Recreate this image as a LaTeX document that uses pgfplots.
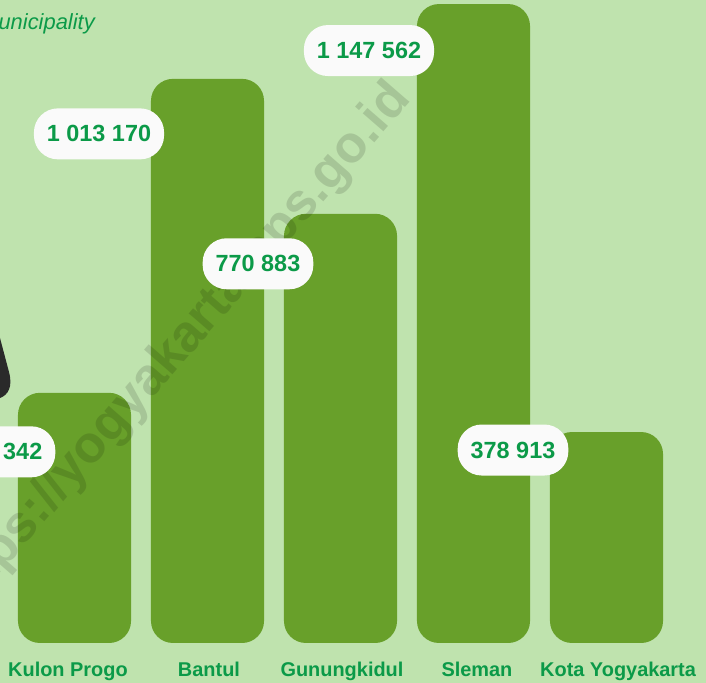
\documentclass[border=0pt]{standalone}
\usepackage{pgfplots}
\pgfplotsset{compat=1.18}
\usepackage{fontspec}
\setmainfont{Liberation Sans}
\definecolor{bgc}{RGB}{191,227,174}
\definecolor{barc}{RGB}{104,160,42}
\definecolor{txtg}{RGB}{11,154,72}
\definecolor{lblbg}{RGB}{250,250,250}
\definecolor{darkshape}{RGB}{42,42,42}
\tikzset{lbl/.style={fill=lblbg, text=txtg, rounded corners=24bp, minimum height=51bp, inner xsep=13bp, inner ysep=0pt, font=\bfseries\fontsize{23.5}{23.5}\selectfont, anchor=center}}
\begin{document}
\begin{tikzpicture}
\useasboundingbox (0,0) rectangle (706bp,683bp);
\fill[bgc] (0,0) rectangle (706bp,683bp);
\fill[darkshape] (0bp,345bp) -- (9bp,311bp) .. controls (13bp,296bp) and (8bp,288bp) .. (0bp,285bp) -- cycle;
\node[anchor=base east, font=\itshape\fontsize{22}{22}\selectfont, text=txtg, inner sep=0pt] at (95bp,653bp) {Regency/Municipality};
\begin{axis}[
  at={(0,0)}, anchor=south west,
  scale only axis, width=706bp, height=683bp,
  xmin=-0.5602, xmax=4.7481,
  ymin=-71840, ymax=1154828,
  axis line style={draw=none},
  tick style={draw=none},
  ytick=\empty,
  xtick={-0.049,1.011,2.011,3.026,4.087},
  xticklabels={Kulon Progo,Bantul,Gunungkidul,Sleman,Kota Yogyakarta},
  xticklabel style={anchor=base, yshift=7bp, font=\bfseries\fontsize{20}{20}\selectfont, text=txtg, inner sep=0pt},
  clip=false,
]
\addplot[ybar, bar width=0.85, fill=barc, draw=none, rounded corners=22bp]
  coordinates {(0,449342) (1,1013170) (2,770883) (3,1147562) (4,378913)};
\node[rotate=49, anchor=mid east, font=\bfseries\fontsize{52}{52}\selectfont, text=black, opacity=0.13, inner sep=0pt] at (axis cs:2.5226,978820) {https://yogyakarta.bps.go.id};
\node[lbl] at ([xshift=-74.5bp,yshift=-59bp]axis cs:0,449342) {449 342};
\node[lbl] at ([xshift=-108.5bp,yshift=-55bp]axis cs:1,1013170) {1 013 170};
\node[lbl] at ([xshift=-82.5bp,yshift=-50bp]axis cs:2,770883) {770 883};
\node[lbl] at ([xshift=-104.5bp,yshift=-46.5bp]axis cs:3,1147562) {1 147 562};
\node[lbl] at ([xshift=-93.5bp,yshift=-18bp]axis cs:4,378913) {378 913};
\end{axis}
\end{tikzpicture}
\end{document}
